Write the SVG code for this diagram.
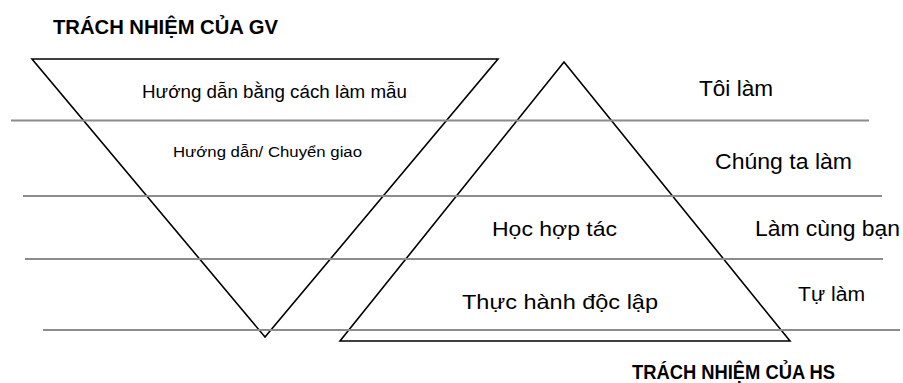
<svg xmlns="http://www.w3.org/2000/svg" width="903" height="383" viewBox="0 0 903 383">
  <style>
    .band { stroke: #8c8c8c; stroke-width: 2.2; fill: none; }
    .tri { stroke: #000; stroke-width: 1.6; fill: none; stroke-linejoin: miter; }
    text { font-family: "Liberation Sans", Arial, sans-serif; fill: #000; }
    .hdr { font-weight: bold; font-size: 21px; }
    .lbl { font-size: 21px; }
  </style>
  <rect width="903" height="383" fill="#fff"/>
  <g id="gv-triangle">
    <polygon class="tri" points="32,59 498,59 265,337"/>
  </g>
  <g id="hs-triangle">
    <polygon class="tri" points="564,62 790,341 340,341"/>
  </g>
  <g id="connectors">
    <line class="band" x1="11" y1="120.5" x2="869" y2="120.5"/>
    <line class="band" x1="23" y1="196" x2="882" y2="196"/>
    <line class="band" x1="25" y1="259" x2="883" y2="259"/>
    <line class="band" x1="43" y1="330" x2="900" y2="330"/>
  </g>
  <g id="title-gv"><text class="hdr" x="53" y="34" textLength="225" lengthAdjust="spacingAndGlyphs">TRÁCH NHIỆM CỦA GV</text></g>
  <g id="title-hs"><text class="hdr" x="632" y="379" textLength="203" lengthAdjust="spacingAndGlyphs" style="font-size:20px">TRÁCH NHIỆM CỦA HS</text></g>
  <g id="gv-model"><text x="142" y="98" textLength="265" lengthAdjust="spacingAndGlyphs" style="font-size:18px">Hướng dẫn bằng cách làm mẫu</text></g>
  <g id="gv-guide"><text x="173" y="157" textLength="189" lengthAdjust="spacingAndGlyphs" style="font-size:15.5px">Hướng dẫn/ Chuyển giao</text></g>
  <g id="hs-coop"><text class="lbl" x="492" y="236" textLength="125" lengthAdjust="spacingAndGlyphs">Học hợp tác</text></g>
  <g id="hs-indep"><text class="lbl" x="462" y="309" textLength="196" lengthAdjust="spacingAndGlyphs">Thực hành độc lập</text></g>
  <g id="r-toi"><text class="lbl" x="699" y="96" textLength="74" lengthAdjust="spacingAndGlyphs" style="font-size:22px">Tôi làm</text></g>
  <g id="r-chungta"><text class="lbl" x="715" y="169" textLength="137" lengthAdjust="spacingAndGlyphs" style="font-size:22px">Chúng ta làm</text></g>
  <g id="r-ban"><text class="lbl" x="755" y="236" textLength="145" lengthAdjust="spacingAndGlyphs" style="font-size:22px">Làm cùng bạn</text></g>
  <g id="r-tu"><text class="lbl" x="798" y="301" textLength="67" lengthAdjust="spacingAndGlyphs" style="font-size:20px">Tự làm</text></g>
</svg>
